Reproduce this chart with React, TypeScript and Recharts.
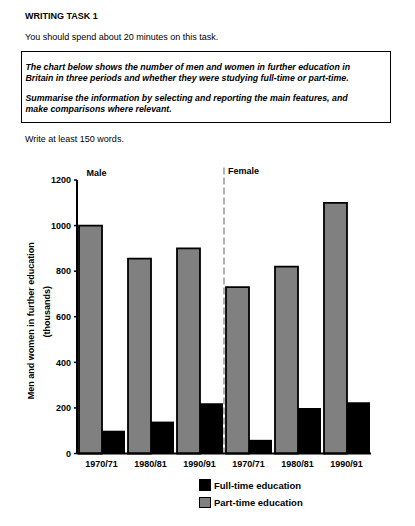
import React from 'react';
import { BarChart, Bar, XAxis, YAxis, ReferenceLine } from 'recharts';

const FONT = '"Liberation Sans", Arial, Helvetica, sans-serif';

const periods = ['1970/71', '1980/81', '1990/91'];
const groups = ['Male', 'Female'];
const malePartTime = [1000, 855, 900];
const maleFullTime = [100, 140, 220];
const femalePartTime = [730, 820, 1100];
const femaleFullTime = [60, 200, 225];
const yTicks = [0, 200, 400, 600, 800, 1000, 1200];
const fullTimeName = 'Full-time education';
const partTimeName = 'Part-time education';

const data = [
  ...periods.map((p, i) => ({ key: `${groups[0]} ${p}`, part: malePartTime[i], full: maleFullTime[i] })),
  ...periods.map((p, i) => ({ key: `${groups[1]} ${p}`, part: femalePartTime[i], full: femaleFullTime[i] })),
];

// first female category, the dashed separator sits at the start of its band
const firstFemale = data[periods.length].key;

function YLabel(props: any) {
  const vb = props.viewBox || { x: 20, y: 180, width: 57, height: 273.5 };
  const cy = vb.y + vb.height / 2;
  const x1 = vb.x + 11;
  const x2 = vb.x + 27;
  const style = { fontSize: 9, fontWeight: 'bold' as const, fontFamily: FONT };
  return (
    <g>
      <text x={x1} y={cy} dx={-4} transform={`rotate(-90, ${x1}, ${cy})`} textAnchor="middle" dominantBaseline="central" fill="#000" style={style}>
        Men and women in further education
      </text>
      <text x={x2} y={cy} dx={5} transform={`rotate(-90, ${x2}, ${cy})`} textAnchor="middle" dominantBaseline="central" fill="#000" style={style}>
        (thousands)
      </text>
    </g>
  );
}

const abs = (left: number, top: number, extra: React.CSSProperties = {}): React.CSSProperties => ({
  position: 'absolute',
  left,
  top,
  whiteSpace: 'nowrap',
  ...extra,
});

export default function App() {
  return (
    <div style={{ position: 'absolute', left: 0, top: 0, width: 415, height: 526, background: '#fff', color: '#000', fontFamily: FONT, overflow: 'hidden' }}>
      <div style={{ position: 'absolute', left: 0, top: 0 }}>
        <BarChart
          width={415}
          height={526}
          data={data}
          margin={{ top: 180, right: 44, bottom: 52.5, left: 20 }}
          barCategoryGap={2}
          barGap={0}
        >
          <XAxis
            dataKey="key"
            interval={0}
            height={20}
            tickSize={0}
            tickMargin={7}
            tickLine={false}
            tickFormatter={(v: string) => v.split(' ')[1]}
            tick={{ fontSize: 9, fontWeight: 'bold', fill: '#000', fontFamily: FONT }}
            axisLine={{ stroke: '#000', strokeWidth: 2 }}
          />
          <YAxis
            width={57}
            domain={[0, 1200]}
            ticks={yTicks}
            interval={0}
            tickSize={3}
            tickMargin={3}
            tick={{ fontSize: 9, fontWeight: 'bold', fill: '#000', fontFamily: FONT }}
            tickLine={{ stroke: '#000', strokeWidth: 1.5 }}
            axisLine={{ stroke: '#000', strokeWidth: 2 }}
            label={<YLabel />}
          />
          <ReferenceLine
            segment={[
              { x: firstFemale, y: 1255 },
              { x: firstFemale, y: 0 },
            ]}
            position="start"
            ifOverflow="visible"
            stroke="#999"
            strokeWidth={1.5}
            strokeDasharray="7 3"
          />
          <Bar dataKey="part" name={partTimeName} fill="#808080" stroke="#000" strokeWidth={1.8} isAnimationActive={false} />
          <Bar dataKey="full" name={fullTimeName} fill="#000" isAnimationActive={false} />
        </BarChart>
      </div>

      <div style={abs(25, 11, { fontSize: 9, fontWeight: 'bold', lineHeight: '10px' })}>WRITING TASK 1</div>
      <div style={abs(25, 32, { fontSize: 9, lineHeight: '10px' })}>You should spend about 20 minutes on this task.</div>
      <div
        style={{
          position: 'absolute',
          left: 20.5,
          top: 51,
          width: 368,
          height: 69.5,
          border: '1.5px solid #000',
        }}
      />
      <div style={abs(25.5, 61.5, { fontSize: 8.8, fontWeight: 'bold', fontStyle: 'italic', lineHeight: '11.5px' })}>
        The chart below shows the number of men and women in further education in
        <br />
        Britain in three periods and whether they were studying full-time or part-time.
      </div>
      <div style={abs(25.5, 92.5, { fontSize: 8.8, fontWeight: 'bold', fontStyle: 'italic', lineHeight: '11px' })}>
        Summarise the information by selecting and reporting the main features, and
        <br />
        make comparisons where relevant.
      </div>
      <div style={abs(25, 133.5, { fontSize: 9, lineHeight: '10px' })}>Write at least 150 words.</div>

      <div style={abs(86.5, 167.5, { fontSize: 9, fontWeight: 'bold', lineHeight: '10px' })}>{groups[0]}</div>
      <div style={abs(228, 166, { fontSize: 9, fontWeight: 'bold', lineHeight: '10px' })}>{groups[1]}</div>

      {[
        { name: fullTimeName, fill: '#000', cy: 485 },
        { name: partTimeName, fill: '#808080', cy: 502.5 },
      ].map((item) => (
        <div key={item.name}>
          <div
            style={{
              position: 'absolute',
              left: 199,
              top: item.cy - 6,
              width: 9.5,
              height: 9.5,
              background: item.fill,
              border: '1.2px solid #000',
            }}
          />
          <div style={abs(214, item.cy - 5.5, { fontSize: 9.5, fontWeight: 'bold', lineHeight: '11px' })}>{item.name}</div>
        </div>
      ))}
    </div>
  );
}
